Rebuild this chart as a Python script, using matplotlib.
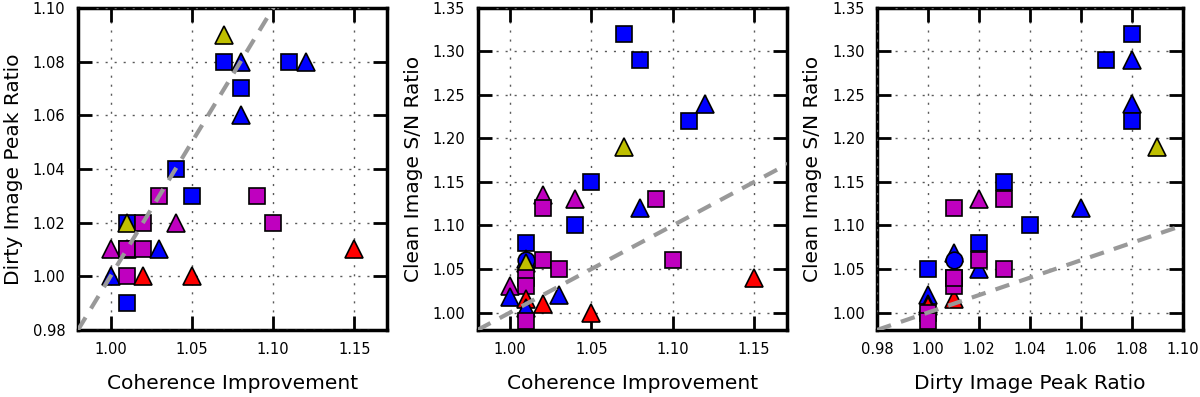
import matplotlib
matplotlib.use('Agg')
import matplotlib.pyplot as plt

# panel 1: coherence improvement vs dirty image peak ratio
coh1 = [1.01, 1.07, 1.07, 1.08, 1.11, 1.12, 1.08, 1.08, 1.04, 1.03, 1.05, 1.09,
        1.01, 1.01, 1.02, 1.04, 1.10, 1.00, 1.01, 1.01, 1.02, 1.03, 1.15,
        1.00, 1.01, 1.02, 1.05, 1.01]
dirty1 = [1.02, 1.09, 1.08, 1.08, 1.08, 1.08, 1.07, 1.06, 1.04, 1.03, 1.03, 1.03,
          1.01, 1.02, 1.02, 1.02, 1.02, 1.01, 1.01, 1.01, 1.01, 1.01, 1.01,
          1.00, 1.00, 1.00, 1.00, 0.99]
mark1 = ['s', '^', 's', '^', 's', '^', 's', '^', 's', 's', 's', 's',
         '^', '^', 's', '^', 's', '^', 's', 's', 's', '^', '^',
         '^', 's', '^', '^', 's']
col1 = ['b', 'y', 'b', 'b', 'b', 'b', 'b', 'b', 'b', 'm', 'b', 'm',
        'r', 'y', 'm', 'm', 'm', 'm', 'm', 'm', 'm', 'b', 'r',
        'b', 'm', 'r', 'r', 'b']

# panel 2: coherence improvement vs clean image S/N ratio
coh2 = [1.07, 1.08, 1.12, 1.11, 1.07, 1.05, 1.02, 1.02, 1.04, 1.09, 1.08, 1.04,
        1.01, 1.01, 1.01, 1.01, 1.02, 1.03, 1.10, 1.01, 1.01, 1.00, 1.00,
        1.01, 1.01, 1.02, 1.03, 1.05, 1.15, 1.01]
snr2 = [1.32, 1.29, 1.24, 1.22, 1.19, 1.15, 1.135, 1.12, 1.13, 1.13, 1.12, 1.10,
        1.08, 1.062, 1.06, 1.057, 1.06, 1.05, 1.06, 1.04, 1.03, 1.03, 1.018,
        1.015, 1.005, 1.01, 1.02, 1.00, 1.04, 0.99]
mark2 = ['s', 's', '^', 's', '^', 's', '^', 's', '^', 's', '^', 's',
         's', '^', 'o', '^', 's', 's', 's', 's', 's', '^', '^',
         '^', '^', '^', '^', '^', '^', 's']
col2 = ['b', 'b', 'b', 'b', 'y', 'b', 'm', 'm', 'm', 'm', 'b', 'b',
        'b', 'b', 'b', 'y', 'm', 'm', 'm', 'm', 'm', 'm', 'b',
        'r', 'b', 'r', 'b', 'r', 'r', 'm']

# panel 3: dirty image peak ratio vs clean image S/N ratio
dirty3 = [1.08, 1.07, 1.08, 1.08, 1.08, 1.09, 1.03, 1.03, 1.02, 1.01, 1.06, 1.04,
          1.02, 1.02, 1.02, 1.01, 1.01, 1.00, 1.03, 1.01, 1.01, 1.01, 1.01,
          1.00, 1.00, 1.00, 1.00, 1.00]
snr3 = [1.32, 1.29, 1.29, 1.24, 1.22, 1.19, 1.15, 1.13, 1.13, 1.12, 1.12, 1.10,
        1.08, 1.05, 1.06, 1.068, 1.06, 1.05, 1.05, 1.015, 1.04, 1.03, 1.04,
        1.02, 1.01, 1.007, 1.00, 0.99]
mark3 = ['s', 's', '^', '^', 's', '^', 's', 's', '^', 's', '^', 's',
         's', '^', 's', '^', 'o', 's', 's', '^', 's', 's', 's',
         '^', '^', '^', 's', 's']
col3 = ['b', 'b', 'b', 'b', 'b', 'y', 'b', 'm', 'm', 'm', 'b', 'b',
        'b', 'b', 'm', 'b', 'b', 'b', 'm', 'r', 'm', 'm', 'm',
        'b', 'b', 'r', 'm', 'm']

panels = [
    (coh1, dirty1, mark1, col1, 'Coherence Improvement', 'Dirty Image Peak Ratio',
     (0.98, 1.17), (0.98, 1.10), [1.00, 1.05, 1.10, 1.15], [0.98, 1.00, 1.02, 1.04, 1.06, 1.08, 1.10]),
    (coh2, snr2, mark2, col2, 'Coherence Improvement', 'Clean Image S/N Ratio',
     (0.98, 1.17), (0.98, 1.35), [1.00, 1.05, 1.10, 1.15], [1.00, 1.05, 1.10, 1.15, 1.20, 1.25, 1.30, 1.35]),
    (dirty3, snr3, mark3, col3, 'Dirty Image Peak Ratio', 'Clean Image S/N Ratio',
     (0.98, 1.10), (0.98, 1.35), [0.98, 1.00, 1.02, 1.04, 1.06, 1.08, 1.10], [1.00, 1.05, 1.10, 1.15, 1.20, 1.25, 1.30, 1.35]),
]

msize = {'s': 12, '^': 12.8, 'o': 12}

fig = plt.figure(figsize=(12, 3.97), dpi=100)
boxes = [[0.065, 0.169, 0.2575, 0.811],
         [0.398, 0.169, 0.2575, 0.811],
         [0.731, 0.169, 0.2545, 0.811]]

for box, (xs, ys, marks, cols, xlab, ylab, xlim, ylim, xt, yt) in zip(boxes, panels):
    ax = fig.add_axes(box)
    for x, y, m, c in zip(xs, ys, marks, cols):
        ax.plot(x, y, linestyle='none', marker=m, color=c, markersize=msize[m],
                markeredgecolor='k', markeredgewidth=1.2, zorder=3)
    # one-to-one line
    ax.plot([0.98, 1.35], [0.98, 1.35], color='0.6', lw=3, dashes=(3.5, 2.5), zorder=4)
    ax.set_xlim(xlim)
    ax.set_ylim(ylim)
    ax.set_xticks(xt)
    ax.set_yticks(yt)
    ax.set_xticklabels(['%.2f' % v for v in xt])
    ax.set_yticklabels(['%.2f' % v for v in yt])
    ax.grid(True, color='0.35', lw=1, dashes=(1.5, 5), zorder=5)
    ax.set_axisbelow(False)
    ax.tick_params(direction='in', length=10, width=2, top=True, right=True,
                   labelsize=10.5, pad=9)
    for sp in ax.spines.values():
        sp.set_linewidth(2.5)
    ax.set_xlabel(xlab, fontsize=14.5, labelpad=12)
    ax.set_ylabel(ylab, fontsize=14.5, labelpad=7)

fig.savefig('out.png', dpi=100)
